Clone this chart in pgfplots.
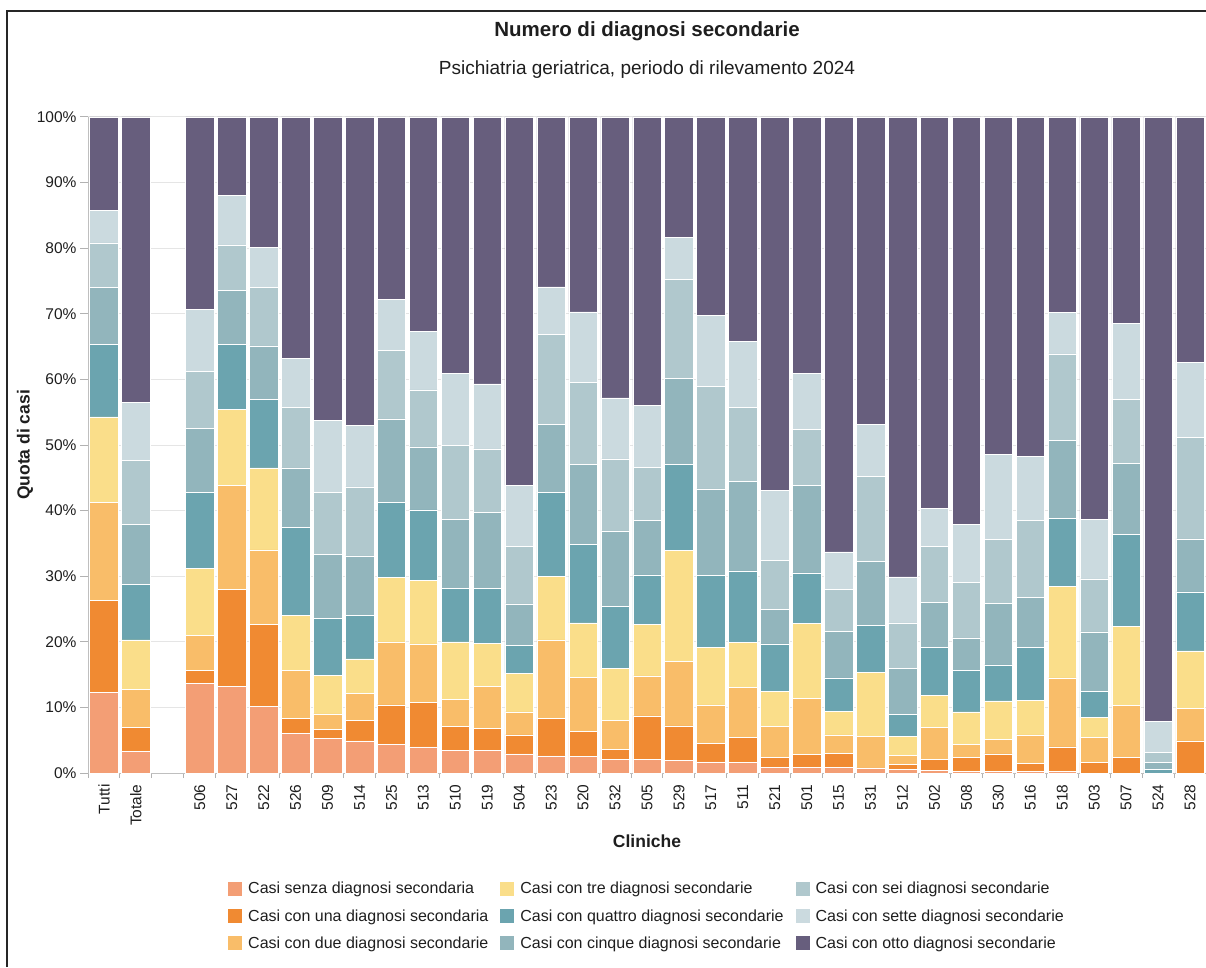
\documentclass[border=0pt]{standalone}
\usepackage{pgfplots}
\pgfplotsset{compat=1.18}
\usepackage{pgfplotstable}
\usepackage{fontspec}
\setmainfont{Liberation Sans}

\definecolor{c1}{HTML}{F39E75}
\definecolor{c2}{HTML}{F08A32}
\definecolor{c3}{HTML}{F9BD69}
\definecolor{c4}{HTML}{FADE8A}
\definecolor{c5}{HTML}{6BA4AF}
\definecolor{c6}{HTML}{92B5BC}
\definecolor{c7}{HTML}{B0C8CD}
\definecolor{c8}{HTML}{CBDADF}
\definecolor{c9}{HTML}{675E7D}
\definecolor{txt}{HTML}{1E1E1E}

% x  senza una due tre quattro cinque sei sette otto
\pgfplotstableread{
x  a    b    c    d    e    f    g    h    i
0  12.3 14.0 14.9 13.1 11.0 8.7  6.8  5.0  14.2
1  3.3  3.7  5.8  7.5  8.4  9.2  9.7  8.9  43.5
3  13.7 1.9  5.4  10.2 11.6 9.7  8.7  9.5  29.3
4  13.2 14.8 15.9 11.5 9.9  8.3  6.9  7.6  11.9
5  10.1 12.5 11.4 12.5 10.5 8.1  8.9  6.1  19.9
6  6.0  2.3  7.4  8.3  13.5 9.0  9.2  7.5  36.8
7  5.3  1.3  2.4  5.9  8.7  9.7  9.5  10.9 46.3
8  4.9  3.1  4.1  5.3  6.6  9.1  10.5 9.4  47.0
9  4.4  6.0  9.6  9.8  11.4 12.8 10.4 7.8  27.8
10 4.0  6.8  8.9  9.7  10.7 9.6  8.7  8.9  32.7
11 3.5  3.6  4.1  8.8  8.1  10.6 11.3 10.9 39.1
12 3.5  3.3  6.4  6.6  8.4  11.5 9.7  9.9  40.7
13 2.9  2.9  3.5  5.9  4.2  6.4  8.7  9.4  56.1
14 2.6  5.7  12.0 9.7  12.8 10.3 13.8 7.2  25.9
15 2.5  3.9  8.2  8.3  11.9 12.3 12.5 10.7 29.7
16 2.1  1.5  4.4  8.0  9.4  11.5 11.0 9.3  42.8
17 2.1  6.6  6.1  7.9  7.5  8.3  8.1  9.4  44.0
18 1.9  5.3  9.8  16.9 13.2 13.0 15.1 6.5  18.3
19 1.7  2.8  5.9  8.7  11.0 13.2 15.6 10.9 30.2
20 1.6  3.8  7.7  6.8  10.9 13.7 11.2 10.1 34.2
21 0.9  1.5  4.7  5.3  7.3  5.3  7.4  10.7 56.9
22 0.9  1.9  8.6  11.4 7.7  13.3 8.6  8.5  39.1
23 0.9  2.1  2.8  3.6  5.1  7.1  6.4  5.7  66.3
24 0.8  0.0  4.8  9.7  7.2  9.8  12.9 8.0  46.8
25 0.6  0.7  1.4  2.9  3.3  7.1  6.9  7.0  70.1
26 0.4  1.7  4.9  4.8  7.3  6.9  8.5  5.8  59.7
27 0.3  2.1  2.0  4.9  6.4  4.9  8.5  8.8  62.1
28 0.3  2.6  2.2  5.9  5.5  9.4  9.7  13.0 51.4
29 0.2  1.3  4.3  5.3  8.0  7.7  11.7 9.8  51.7
30 0.2  3.8  10.5 14.0 10.3 11.9 13.2 6.3  29.8
31 0.0  1.6  3.8  3.1  3.9  9.1  8.1  9.1  61.3
32 0.0  2.4  7.9  12.1 14.0 10.8 9.7  11.6 31.5
33 0.0  0.0  0.0  0.0  0.6  1.0  1.6  4.7  92.1
34 0.0  4.9  4.9  8.8  9.0  8.1  15.5 11.4 37.4
}\data

\begin{document}
\begin{tikzpicture}[x=1pt,y=1pt]
\useasboundingbox (0,0) rectangle (1206,967);
\draw[black!85, line width=1.3pt] (7,0) -- (7,956) -- (1206,956);

\begin{axis}[
  at={(88pt,194pt)}, anchor=south west,
  scale only axis, width=1118pt, height=656pt,
  xmin=-0.5, xmax=34.5, ymin=0, ymax=100,
  ybar stacked, bar width=28.5pt,
  axis x line*=bottom, axis y line*=left,
  axis line style={draw=black!25, line width=1pt},
  tick align=outside,
  ytick={0,10,...,100},
  yticklabel={\pgfmathprintnumber{\tick}\%},
  major tick length=8pt,
  y tick style={draw=black!30, line width=1pt},
  ymajorgrids, grid style={draw=black!10, line width=1pt},
  xtick={0,...,34},
  xticklabels={Tutti,Totale,{},506,527,522,526,509,514,525,513,510,519,504,523,520,532,505,529,517,511,521,501,515,531,512,502,508,530,516,518,503,507,524,528},
  major x tick style={draw=none},
  minor xtick={-0.5,0.5,...,34.5},
  minor x tick style={draw=black!30, line width=1pt},
  minor tick length=5pt,
  xticklabel style={rotate=90, anchor=east, font=\fontsize{15.5}{18}\selectfont, text=txt},
  yticklabel style={font=\fontsize{15.5}{18}\selectfont, text=txt},
  /pgf/number format/assume math mode=true,
  legend columns=3,
  legend style={at={(0.5,-0.218)}, anchor=center, draw=none, fill=none,
    font=\fontsize{16}{19}\selectfont, text=txt,
    /tikz/every odd column/.append style={column sep=4pt},
    /tikz/every even column/.append style={column sep=10pt},
    row sep=10pt},
  legend cell align=left,
  legend image code/.code={\fill[#1] (0pt,-7pt) rectangle (14pt,7pt);},
]
\addplot[fill=c1, draw=white, line width=0.5pt, forget plot] table[x=x,y=a]{\data};
\addplot[fill=c2, draw=white, line width=0.5pt, forget plot] table[x=x,y=b]{\data};
\addplot[fill=c3, draw=white, line width=0.5pt, forget plot] table[x=x,y=c]{\data};
\addplot[fill=c4, draw=white, line width=0.5pt, forget plot] table[x=x,y=d]{\data};
\addplot[fill=c5, draw=white, line width=0.5pt, forget plot] table[x=x,y=e]{\data};
\addplot[fill=c6, draw=white, line width=0.5pt, forget plot] table[x=x,y=f]{\data};
\addplot[fill=c7, draw=white, line width=0.5pt, forget plot] table[x=x,y=g]{\data};
\addplot[fill=c8, draw=white, line width=0.5pt, forget plot] table[x=x,y=h]{\data};
\addplot[fill=c9, draw=white, line width=0.5pt, forget plot] table[x=x,y=i]{\data};

\addlegendimage{fill=c1, draw=none}\addlegendentry{Casi senza diagnosi secondaria}
\addlegendimage{fill=c4, draw=none}\addlegendentry{Casi con tre diagnosi secondarie}
\addlegendimage{fill=c7, draw=none}\addlegendentry{Casi con sei diagnosi secondarie}
\addlegendimage{fill=c2, draw=none}\addlegendentry{Casi con una diagnosi secondaria}
\addlegendimage{fill=c5, draw=none}\addlegendentry{Casi con quattro diagnosi secondarie}
\addlegendimage{fill=c8, draw=none}\addlegendentry{Casi con sette diagnosi secondarie}
\addlegendimage{fill=c3, draw=none}\addlegendentry{Casi con due diagnosi secondarie}
\addlegendimage{fill=c6, draw=none}\addlegendentry{Casi con cinque diagnosi secondarie}
\addlegendimage{fill=c9, draw=none}\addlegendentry{Casi con otto diagnosi secondarie}
\end{axis}

\node[font=\bfseries\fontsize{20.5}{24}\selectfont, text=txt] at (647,936) {Numero di diagnosi secondarie};
\node[font=\fontsize{19}{22}\selectfont, text=txt] at (647,897) {Psichiatria geriatrica, periodo di rilevamento 2024};
\node[font=\bfseries\fontsize{17.5}{21}\selectfont, text=txt, rotate=90] at (25,522) {Quota di casi};
\node[font=\bfseries\fontsize{17.5}{21}\selectfont, text=txt] at (647,126) {Cliniche};
\end{tikzpicture}
\end{document}
